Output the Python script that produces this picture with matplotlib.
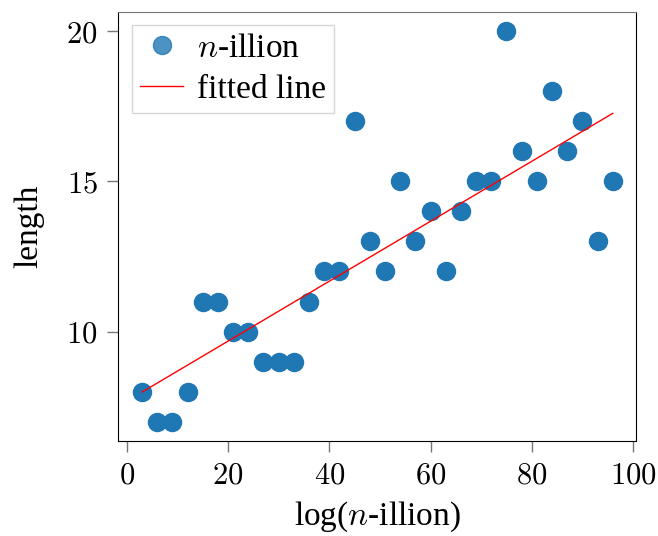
import numpy as np
import matplotlib
matplotlib.use("Agg")
import matplotlib.pyplot as plt
from matplotlib.ticker import FuncFormatter

# powers of ten (log of n-illion) and the length of each name
log_n = [3, 6, 9, 12, 15, 18, 21, 24, 27, 30, 33, 36, 39, 42, 45, 48,
         51, 54, 57, 60, 63, 66, 69, 72, 75, 78, 81, 84, 87, 90, 93, 96]
lengths = [8, 7, 7, 8, 11, 11, 10, 10, 9, 9, 9, 11, 12, 12, 17, 13,
           12, 15, 13, 14, 12, 14, 15, 15, 20, 16, 15, 18, 16, 17, 13, 15]

plt.rcParams['font.family'] = ['Liberation Serif', 'DejaVu Serif']
plt.rcParams['mathtext.fontset'] = 'cm'

x = np.array(log_n)
y = np.array(lengths)
slope, intercept = np.polyfit(x, y, 1)

fig, ax = plt.subplots(figsize=(6.58, 5.36), dpi=100)
ax.plot(x, y, 'o', color='#1f77b4', markersize=13, label=r'$n$-illion')
ax.plot(x, slope * x + intercept, color='red', linewidth=1, label='fitted line')

ax.set_xlabel(r'log($n$-illion)', fontsize=24, labelpad=6)
ax.set_ylabel('length', fontsize=24, labelpad=16)
ax.set_xticks([0, 20, 40, 60, 80, 100])
ax.set_yticks([10, 15, 20])
ax.xaxis.set_major_formatter(FuncFormatter(lambda v, p: f'${v:g}$'))
ax.yaxis.set_major_formatter(FuncFormatter(lambda v, p: f'${v:g}$'))
ax.tick_params(length=8, width=1, color='#777777', labelsize=22, pad=7)
ax.spines['top'].set_color('#777777')

leg = ax.legend(loc='upper left', fancybox=False, fontsize=24,
                handletextpad=0.4, borderpad=0.25, labelspacing=0.32,
                handlelength=1.3, borderaxespad=0.4)
leg.get_frame().set_edgecolor('#cccccc')
leg.legend_handles[0].set_alpha(0.8)

fig.subplots_adjust(left=0.18, right=0.967, top=0.978, bottom=0.177)
fig.savefig('out.png', dpi=100)
